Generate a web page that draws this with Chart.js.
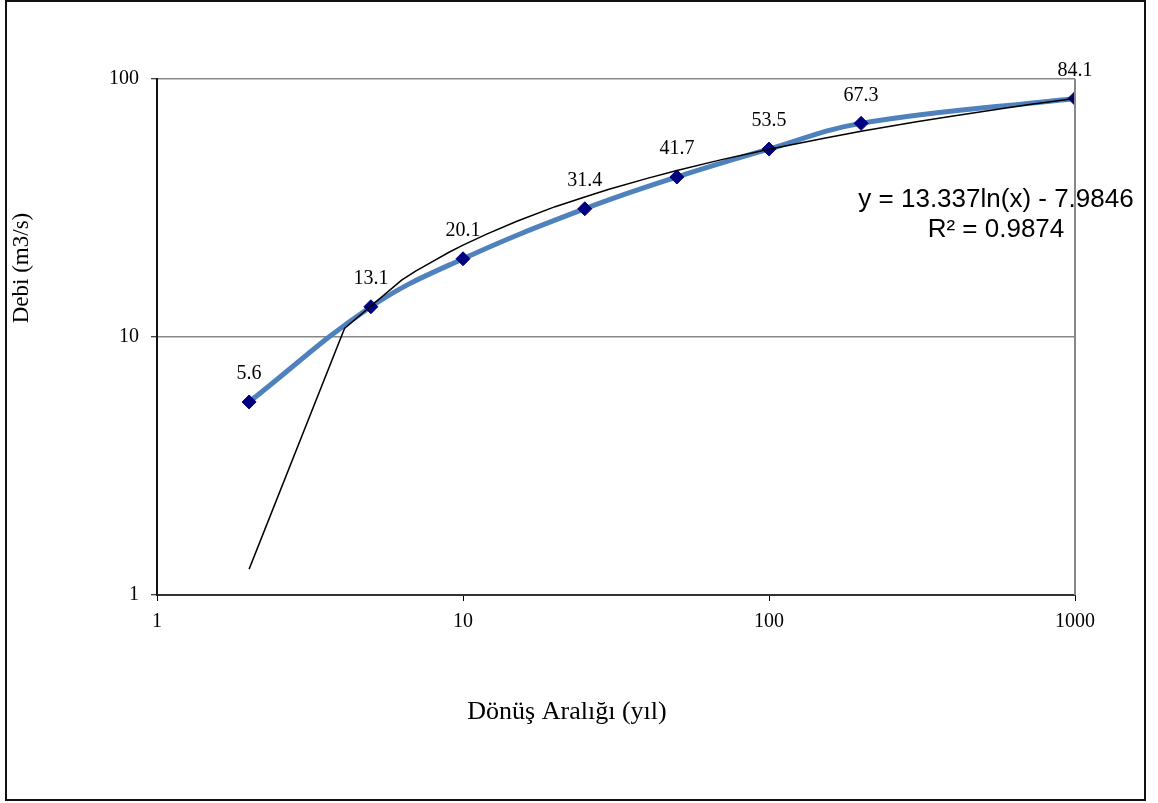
<!DOCTYPE html>
<html>
<head>
<meta charset="utf-8">
<script src="https://cdn.jsdelivr.net/npm/chart.js@4.4.1/dist/chart.umd.min.js"></script>
<style>
  body { margin: 0; background: #fff; }
  #wrap { position: relative; width: 1158px; height: 803px; }
  #frame { position: absolute; left: 5px; top: 0px; width: 1141px; height: 801px; border: 2px solid #111; box-sizing: border-box; pointer-events: none; }
</style>
</head>
<body>
<div id="wrap">
  <canvas id="chart" width="1158" height="803"></canvas>
  <div id="frame"></div>
</div>
<script>
// return period (years) and discharge values
var returnPeriods = [2, 5, 10, 25, 50, 100, 200, 1000];
var discharge = [5.6, 13.1, 20.1, 31.4, 41.7, 53.5, 67.3, 84.1];

// trendline points
var trendX = [2, 4.1, 6.3, 7, 8, 9, 10, 12, 15, 20, 25, 30, 40, 50, 70, 100, 150, 200, 300, 400, 700, 1000];
var trendY = [1.26, 10.8, 16.6, 18.0, 19.7, 21.3, 22.7, 25.1, 28.1, 32.0, 34.9, 37.4, 41.2, 44.2, 48.7, 53.4, 58.8, 62.7, 68.1, 71.9, 79.4, 84.1];

var xTicks = [1, 10, 100, 1000];
var yTicks = [1, 10, 100];

var xTitle = "Dönüş Aralığı (yıl)";
var yTitle = "Debi (m3/s)";
var eqLine1 = "y = 13.337ln(x) - 7.9846";
var eqLine2 = "R\u00b2 = 0.9874";

var serif = "'Liberation Serif', 'Times New Roman', serif";

var mainPts = [];
for (var i = 0; i < returnPeriods.length; i++) {
  mainPts.push({x: returnPeriods[i], y: discharge[i]});
}
var trendPts = [];
for (var j = 0; j < trendX.length; j++) {
  trendPts.push({x: trendX[j], y: trendY[j]});
}

// labels above points, equation, axis titles and right border of the plot
var extras = {
  id: 'extras',
  afterDatasetsDraw: function(chart) {
    var ctx = chart.ctx;
    var area = chart.chartArea;
    ctx.save();
    ctx.strokeStyle = '#888';
    ctx.lineWidth = 2;
    ctx.beginPath();
    ctx.moveTo(area.right, area.top);
    ctx.lineTo(area.right, area.bottom);
    ctx.stroke();

    var meta = chart.getDatasetMeta(1);
    ctx.fillStyle = '#000';
    ctx.font = '20px ' + serif;
    ctx.textAlign = 'center';
    ctx.textBaseline = 'middle';
    meta.data.forEach(function(p, k) {
      ctx.fillText(discharge[k].toString(), p.x, p.y - 28);
    });

    ctx.font = '26px "Liberation Sans", Arial, sans-serif';
    ctx.fillText(eqLine1, 996, 200);
    ctx.fillText(eqLine2, 996, 230);

    // axis titles sit off-centre in the original
    ctx.font = '26px ' + serif;
    ctx.fillText(xTitle, 567, 712);
    ctx.translate(22, 268);
    ctx.rotate(-Math.PI / 2);
    ctx.font = '23px ' + serif;
    ctx.fillText(yTitle, 0, 0);
    ctx.restore();
  }
};

var chart = new Chart(document.getElementById('chart').getContext('2d'), {
  type: 'scatter',
  data: {
    datasets: [
      {
        label: 'trend',
        data: trendPts,
        showLine: true,
        borderColor: '#000',
        borderWidth: 1.5,
        pointRadius: 0,
        tension: 0,
        order: 1
      },
      {
        label: 'Debi',
        data: mainPts,
        showLine: true,
        borderColor: '#4F81BD',
        borderWidth: 5,
        tension: 0.4,
        pointStyle: 'rectRot',
        pointRadius: 7,
        pointBackgroundColor: '#000080',
        pointBorderColor: '#000080',
        pointBorderWidth: 1,
        order: 2
      }
    ]
  },
  options: {
    responsive: false,
    animation: false,
    layout: { padding: { left: 8, top: 79, right: 83, bottom: 77 } },
    plugins: { legend: { display: false }, tooltip: { enabled: false } },
    scales: {
      x: {
        type: 'logarithmic',
        min: 1, max: 1000,
        afterBuildTicks: function(s) { s.ticks = xTicks.map(function(v) { return {value: v}; }); },
        afterFit: function(s) { s.height = 131; },
        ticks: {
          color: '#000', font: { family: serif, size: 20 }, padding: 9, maxRotation: 0,
          callback: function(v) { return v.toString(); }
        },
        grid: { drawOnChartArea: false, tickLength: 6, tickColor: '#000', tickWidth: 1 },
        border: { color: '#333', width: 2 }
      },
      y: {
        type: 'logarithmic',
        min: 1, max: 100,
        afterBuildTicks: function(s) { s.ticks = yTicks.map(function(v) { return {value: v}; }); },
        afterFit: function(s) { s.width = 149; },
        ticks: {
          color: '#000', font: { family: serif, size: 20 }, padding: 12,
          callback: function(v) { return v.toString(); }
        },
        grid: { color: '#888', lineWidth: 1.5, tickLength: 6, tickColor: '#000', tickWidth: 1 },
        border: { color: '#111', width: 2 }
      }
    }
  },
  plugins: [extras]
});
</script>
</body>
</html>
